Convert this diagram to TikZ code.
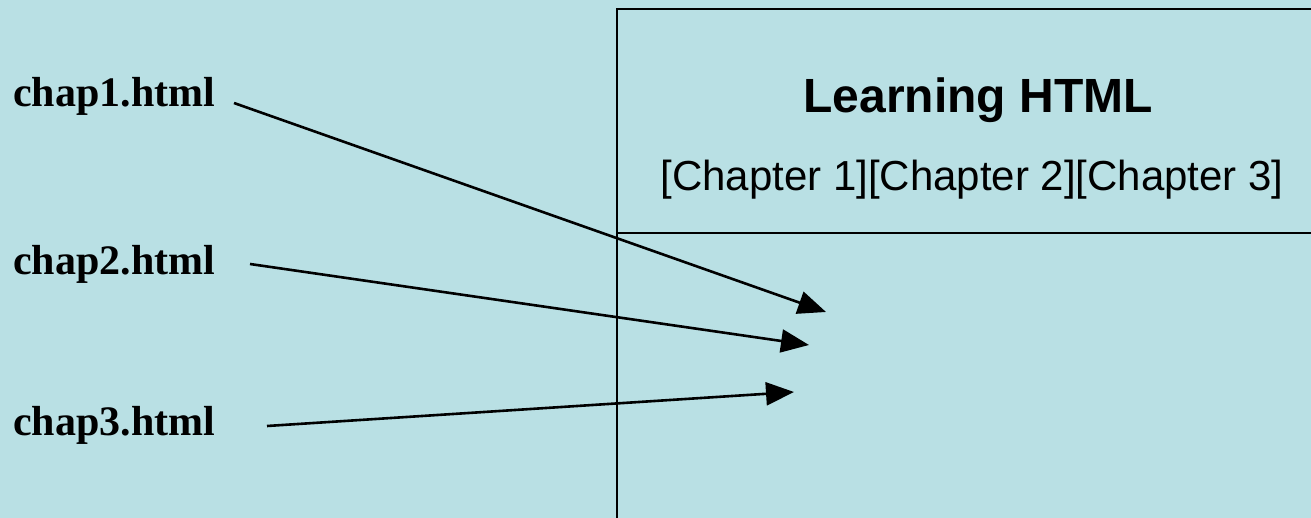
\documentclass[tikz,border=0pt]{standalone}
\usepackage{fontspec}
\setmainfont{Liberation Serif}
\newfontfamily\arialfont{Liberation Sans}
\usetikzlibrary{arrows.meta}
\definecolor{bgblue}{RGB}{185,224,228}
\begin{document}
\begin{tikzpicture}[x=1pt,y=-1pt,
  lbl/.style={font=\fontsize{42}{44}\selectfont\bfseries, anchor=base west, inner sep=0pt},
  conn/.style={line width=2.6pt, -{Triangle[length=28pt,width=23pt]}},
  boxline/.style={line width=2.7pt}]
\fill[bgblue] (0,0) rectangle (1311,518);
\useasboundingbox (0,0) rectangle (1311,518);
\draw[boxline] (617,530) -- (617,9) -- (1320,9);
\draw[boxline] (617,233) -- (1320,233);
\node[font=\arialfont\fontsize{48}{50}\selectfont\bfseries, inner sep=0pt, anchor=base] (title) at (978,113) {Learning HTML};
\node[font=\arialfont\fontsize{42}{44}\selectfont, inner sep=0pt, anchor=base] (links) at (972,191) {[Chapter 1][Chapter 2][Chapter 3]};
\node[lbl] (c1) at (13,107) {chap1.html};
\node[lbl] (c2) at (13,275) {chap2.html};
\node[lbl] (c3) at (13,435) {chap3.html};
\coordinate (s1) at (234,103);
\coordinate (e1) at (826,312);
\coordinate (s2) at (250,264);
\coordinate (e2) at (809,345);
\coordinate (s3) at (267,426);
\coordinate (e3) at (794,392);
\draw[conn] (s1) -- (e1);
\draw[conn] (s2) -- (e2);
\draw[conn] (s3) -- (e3);
\end{tikzpicture}
\end{document}
